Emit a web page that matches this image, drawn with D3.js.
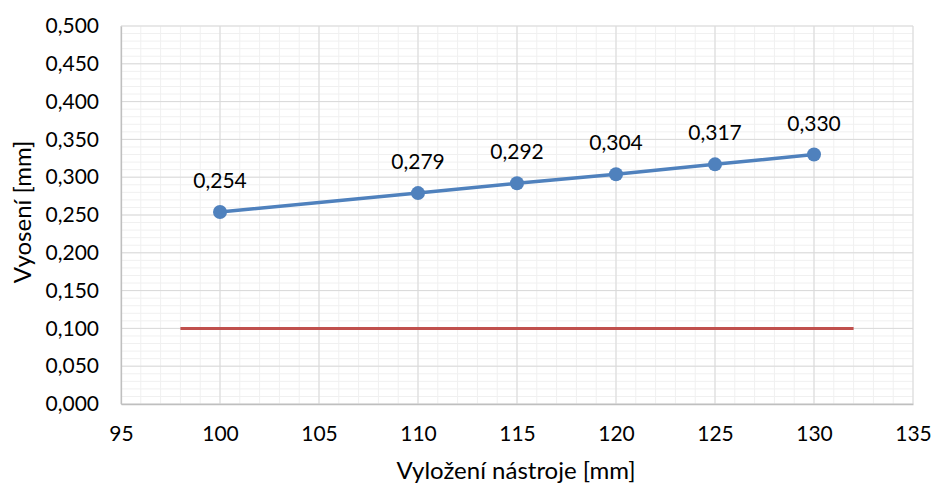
<!DOCTYPE html>
<html>
<head>
<meta charset="utf-8">
<script src="https://cdn.jsdelivr.net/npm/d3@7"></script>
<style>
  html, body { margin: 0; padding: 0; background: #fff; }
  svg text { font-family: Lato, "Open Sans", "Liberation Sans", sans-serif; fill: #000; }
</style>
</head>
<body>
<svg id="chart" width="932" height="486"></svg>
<script>
// Measured offset vs. tool overhang
const overhang = [100, 110, 115, 120, 125, 130];
const offset = [0.254, 0.279, 0.292, 0.304, 0.317, 0.330];
// Limit line
const limitX = [98, 132];
const limitY = [0.100, 0.100];

const xTicks = [95, 100, 105, 110, 115, 120, 125, 130, 135];
const yTicks = [0, 0.05, 0.1, 0.15, 0.2, 0.25, 0.3, 0.35, 0.4, 0.45, 0.5];

const xTitle = "Vyložení nástroje [mm]";
const yTitle = "Vyosení [mm]";

const svg = d3.select("#chart");
const plotL = 121, plotR = 913, plotT = 26, plotB = 404;

const x = d3.scaleLinear().domain([95, 135]).range([plotL, plotR]);
const y = d3.scaleLinear().domain([0, 0.5]).range([plotB, plotT]);
const fmt = v => d3.format(".3f")(v).replace(".", ",");

const grid = svg.append("g");
// minor gridlines
grid.selectAll(".mx").data(d3.range(95, 136, 1)).enter().append("line")
  .attr("x1", d => x(d)).attr("x2", d => x(d)).attr("y1", plotT).attr("y2", plotB)
  .attr("stroke", "#f0f0f0").attr("stroke-width", 1);
grid.selectAll(".my").data(d3.range(0, 51, 1).map(i => i / 100)).enter().append("line")
  .attr("x1", plotL).attr("x2", plotR).attr("y1", d => y(d)).attr("y2", d => y(d))
  .attr("stroke", "#f0f0f0").attr("stroke-width", 1);
// major gridlines
grid.selectAll(".Mx").data(xTicks).enter().append("line")
  .attr("x1", d => x(d)).attr("x2", d => x(d)).attr("y1", plotT).attr("y2", plotB)
  .attr("stroke", "#d9d9d9").attr("stroke-width", 1);
grid.selectAll(".My").data(yTicks).enter().append("line")
  .attr("x1", plotL).attr("x2", plotR).attr("y1", d => y(d)).attr("y2", d => y(d))
  .attr("stroke", "#d9d9d9").attr("stroke-width", 1);

// axes
const xAxis = svg.append("g").attr("transform", `translate(0,${plotB})`)
  .call(d3.axisBottom(x).tickValues(xTicks).tickSize(0).tickPadding(22).tickFormat(d3.format("d")));
xAxis.select(".domain").attr("stroke", "#bfbfbf").attr("stroke-width", 1.3);
xAxis.selectAll("text").attr("font-size", 21);

const yAxis = svg.append("g").attr("transform", `translate(${plotL},0)`)
  .call(d3.axisLeft(y).tickValues(yTicks).tickSize(0).tickPadding(22).tickFormat(fmt));
yAxis.select(".domain").attr("stroke", "#bfbfbf").attr("stroke-width", 1.3);
yAxis.selectAll("text").attr("font-size", 21);

// limit line
svg.append("path")
  .datum(limitX.map((d, i) => [d, limitY[i]]))
  .attr("d", d3.line().x(d => x(d[0])).y(d => y(d[1])))
  .attr("stroke", "#C0504D").attr("stroke-width", 3).attr("fill", "none");

// measured series
const pts = overhang.map((d, i) => [d, offset[i]]);
svg.append("path").datum(pts)
  .attr("d", d3.line().x(d => x(d[0])).y(d => y(d[1])))
  .attr("stroke", "#4F81BD").attr("stroke-width", 3.5).attr("fill", "none");
svg.selectAll(".pt").data(pts).enter().append("circle")
  .attr("cx", d => x(d[0])).attr("cy", d => y(d[1])).attr("r", 7)
  .attr("fill", "#4F81BD");
svg.selectAll(".lbl").data(pts).enter().append("text")
  .attr("x", d => x(d[0])).attr("y", d => y(d[1]) - 24)
  .attr("text-anchor", "middle").attr("font-size", 21)
  .text(d => fmt(d[1]));

// titles
svg.append("text").attr("x", (plotL + plotR) / 2 - 1).attr("y", 479)
  .attr("text-anchor", "middle").attr("font-size", 24).text(xTitle);
svg.append("text").attr("transform", `translate(31,212) rotate(-90)`)
  .attr("text-anchor", "middle").attr("font-size", 24).text(yTitle);
</script>
</body>
</html>
